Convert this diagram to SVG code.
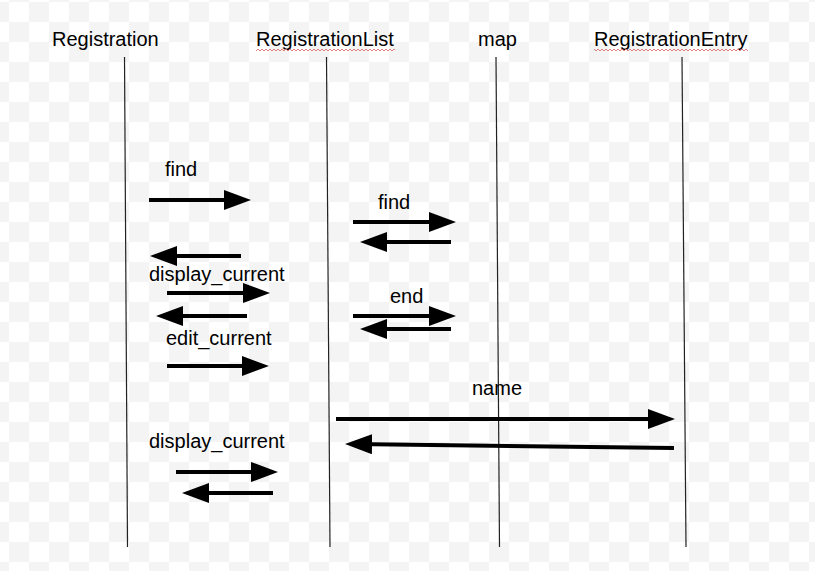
<svg xmlns="http://www.w3.org/2000/svg" width="815" height="571" viewBox="0 0 815 571">
<style>
.lbl{font-family:"Liberation Sans",Arial,sans-serif;font-size:20px;fill:#000}
.life{stroke:#222;stroke-width:1.2;fill:none}
.msg{stroke:#000;stroke-width:4;fill:none;marker-end:url(#ah)}
</style>
<defs>
<pattern id="checker" patternUnits="userSpaceOnUse" x="9" y="2" width="40" height="40">
<rect width="40" height="40" fill="#ffffff"/>
<rect x="20" y="0" width="20" height="20" fill="#f4f4f4"/>
<rect x="0" y="20" width="20" height="20" fill="#f4f4f4"/>
</pattern>
<pattern id="squig" patternUnits="userSpaceOnUse" x="0" y="48" width="4" height="4">
<path d="M0,3 L2,1 L4,3" stroke="#e07070" stroke-width="0.9" fill="none"/>
</pattern>
<marker id="ah" markerUnits="userSpaceOnUse" markerWidth="28" markerHeight="22" refX="19" refY="10" orient="auto">
<path d="M0,0 L27,10 L0,20 Z" fill="#000"/>
</marker>
</defs>
<rect width="815" height="571" fill="url(#checker)"/>

<g id="Registration">
<text class="lbl" x="52" y="46">Registration</text>
<line class="life" x1="124.5" y1="57" x2="127.5" y2="547"/>
</g>
<g id="RegistrationList">
<text class="lbl" x="256" y="46">RegistrationList</text>
<rect x="256" y="48" width="139" height="4" fill="url(#squig)"/>
<line class="life" x1="326.5" y1="57" x2="330" y2="547"/>
</g>
<g id="map">
<text class="lbl" x="478" y="46">map</text>
<line class="life" x1="496" y1="57" x2="499.5" y2="547"/>
</g>
<g id="RegistrationEntry">
<text class="lbl" x="594" y="46">RegistrationEntry</text>
<rect x="594" y="48" width="154" height="4" fill="url(#squig)"/>
<line class="life" x1="682" y1="57" x2="686" y2="547"/>
</g>

<g id="connectors">
<text class="lbl" x="165" y="176">find</text>
<line class="msg" x1="149" y1="200" x2="243" y2="200"/>
<line class="msg" x1="241" y1="256" x2="158" y2="256"/>
<text class="lbl" x="149" y="281">display_current</text>
<line class="msg" x1="167" y1="293" x2="262" y2="293"/>
<line class="msg" x1="247" y1="316" x2="164" y2="316"/>
<text class="lbl" x="166" y="345">edit_current</text>
<line class="msg" x1="167" y1="366" x2="261" y2="366"/>

<text class="lbl" x="378" y="209">find</text>
<line class="msg" x1="353" y1="222" x2="448" y2="222"/>
<line class="msg" x1="451" y1="242" x2="368" y2="242"/>
<text class="lbl" x="390" y="303">end</text>
<line class="msg" x1="353" y1="316" x2="448" y2="316"/>
<line class="msg" x1="451" y1="329" x2="368" y2="329"/>

<text class="lbl" x="472" y="395">name</text>
<line class="msg" x1="336" y1="419" x2="667" y2="419"/>
<line class="msg" x1="674" y1="448" x2="353" y2="444"/>

<text class="lbl" x="149" y="448">display_current</text>
<line class="msg" x1="176" y1="472" x2="270" y2="472"/>
<line class="msg" x1="273" y1="493" x2="190" y2="493"/>
</g>
</svg>
